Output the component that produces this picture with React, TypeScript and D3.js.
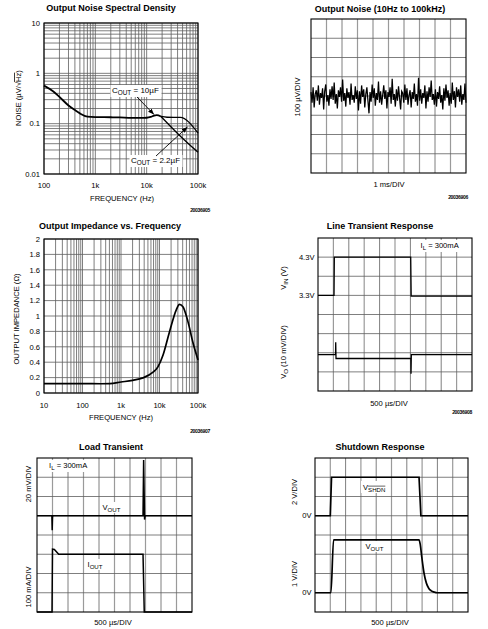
import React from 'react';
import * as d3 from 'd3';

const FONT = "'Liberation Sans', Arial, Helvetica, sans-serif";

// ---------- Panel 1: Output Noise Spectral Density ----------
const nsdFreqCommon = [100, 150, 200, 300, 400, 500, 700, 1000, 2000, 3000, 5000, 8000, 10000, 12000, 14000, 15700, 19000];
const nsdCommon = [0.57, 0.44, 0.34, 0.23, 0.186, 0.16, 0.138, 0.135, 0.134, 0.133, 0.13, 0.13, 0.131, 0.136, 0.145, 0.148, 0.139];
const nsd10uFFreq = [19000, 40000, 100000];
const nsd10uF = [0.139, 0.064, 0.027];
const nsd22uFFreq = [19000, 25000, 45000, 100000];
const nsd22uF = [0.139, 0.134, 0.133, 0.065];
const nsdXTicks = [100, 1000, 10000, 100000];
const nsdXTickLabels = ['100', '1k', '10k', '100k'];
const nsdYTicks = [10, 1, 0.1, 0.01];
const nsdYTickLabels = ['10', '1', '0.1', '0.01'];

// ---------- Panel 2: Output Noise (10Hz to 100kHz), µV ----------
const noiseUV = [
  20, -35, 45, -60, 10, 30, -25, 55, -45, 15, -10, 40, -70, 25, 60, -30, 5, -50, 35, -15,
  50, -20, 70, -40, 10, -65, 30, -5, 45, -30, 85, -25, 15, -55, 40, -10, 20, -45, 65, -20,
  5, -35, 50, -15, 30, -75, 25, -40, 55, -5, 35, -60, 10, 45, -25, -90, 20, -30, 60, -10,
  40, -50, 15, -20, 75, -35, 25, -45, 5, 55, -15, 30, -65, 20, -5, 45, -40, 90, -20, 10,
  -55, 35, -25, 50, -10, -70, 25, 15, -35, 60, -20, 40, -45, 5, 30, -60, 20, -15, 65, -30,
  10, -50, 95, -25, 35, -40, 15, -10, 55, -65, 25, -30, 45, -5, 80, -20, 10, -45, 35, -55,
  20, -15, 50, -35, 5, -70, 40, -25, 60, -10, 30, -50, 15, -40, 70, -20, 25, -60, 45, -5,
  35, -30, 55, -45, 10, -20, 65, -35,
];

// ---------- Panel 3: Output Impedance vs Frequency ----------
const zFreq = [10, 100, 300, 513, 1000, 2000, 3700, 6800, 9100, 12300, 18300, 27300, 33000, 40600, 54600, 73500, 100000];
const zOhm = [0.122, 0.122, 0.12, 0.122, 0.143, 0.165, 0.196, 0.27, 0.34, 0.49, 0.8, 1.08, 1.15, 1.12, 0.93, 0.66, 0.43];
const zXTicks = [10, 100, 1000, 10000, 100000];
const zXTickLabels = ['10', '100', '1k', '10k', '100k'];
const zYTicks = [0, 0.2, 0.4, 0.6, 0.8, 1, 1.2, 1.4, 1.6, 1.8, 2];
const zYTickLabels = ['0', '0.2', '0.4', '0.6', '0.8', '1', '1.2', '1.4', '1.6', '1.8', '2'];

// ---------- Panel 4: Line Transient (time µs) ----------
const lineVinT = [0, 520, 530, 3010, 3025, 5000];
const lineVinV = [3.3, 3.3, 4.3, 4.3, 3.28, 3.28];
const lineVoT = [0, 570, 575, 585, 3015, 3020, 3030, 5000];
const lineVoMV = [-1, -1, 5.5, -3, -3, -11, -1, -1];

// ---------- Panel 5: Load Transient ----------
const loadVT = [0, 480, 490, 500, 510, 3420, 3440, 3470, 3490, 5000];
const loadVmV = [0, 0, -15, -2, 0, 0, 58, -4, 0, 0];
const loadIT = [0, 484, 500, 560, 700, 3420, 3460, 5000];
const loadImA = [0, 0, 327, 325, 300, 300, 0, 0];

// ---------- Panel 6: Shutdown Response ----------
const shdnT = [0, 500, 540, 3400, 3460, 5000];
const shdnV = [0, 0, 4, 4, 0, 0];
const sdOutT = [0, 520, 607, 3400, 3440, 3490, 3565, 3640, 3720, 3800, 3900, 4000, 5000];
const sdOutV = [0, 0, 2.75, 2.75, 2.5, 1.85, 1.0, 0.5, 0.22, 0.1, 0.03, 0, 0];

const GRID = '#5e5e5e';

function logGrid(lo: number, hi: number) {
  const out: number[] = [];
  for (let e = Math.floor(Math.log10(lo)); Math.pow(10, e) <= hi * 1.001; e++) {
    for (let k = 1; k < 10; k++) {
      const v = k * Math.pow(10, e);
      if (v >= lo * 0.999 && v <= hi * 1.001) out.push(v);
    }
  }
  return out;
}

const T = (props: any) => <text fontFamily={FONT} fill="#000" {...props} />;

function Title({ x, y, text }: any) {
  return <T x={x} y={y} fontSize={9} fontWeight="bold" textAnchor="middle">{text}</T>;
}

function Code({ x, y, text }: any) {
  return <T x={x} y={y} fontSize={5} fontWeight="bold" textAnchor="end" letterSpacing={-0.3}>{text}</T>;
}

function SubLabel({ x, y, main, sub, rest = '', size = 8, anchor = 'start', bg = false, bgW = 0, overline = false }: any) {
  return (
    <g>
      {bg && <rect x={x - 1.5} y={y - size} width={bgW} height={size + 4} fill="#fff" />}
      <T x={x} y={y} fontSize={size} textAnchor={anchor}>
        {main}
        <tspan fontSize={size * 0.8} dy={size * 0.3} style={overline ? { textDecoration: 'overline' } : undefined}>{sub}</tspan>
        <tspan dy={-size * 0.3}>{rest}</tspan>
      </T>
    </g>
  );
}

function ScopeGrid({ x0, y0, x1, y1 }: any) {
  const xs = d3.scaleLinear().domain([0, 10]).range([x0, x1]);
  const ys = d3.scaleLinear().domain([0, 8]).range([y0, y1]);
  return (
    <g>
      {d3.range(1, 10).map((i) => (
        <line key={'v' + i} x1={xs(i)} x2={xs(i)} y1={y0} y2={y1} stroke={i % 2 === 1 ? '#9a9a9a' : GRID} strokeWidth={i % 2 === 1 ? 1.2 : 0.8} />
      ))}
      {d3.range(1, 8).map((i) => (
        <line key={'h' + i} x1={x0} x2={x1} y1={ys(i)} y2={ys(i)} stroke={GRID} strokeWidth={0.8} />
      ))}
      <rect x={x0} y={y0} width={x1 - x0} height={y1 - y0} fill="none" stroke="#000" strokeWidth={1.1} />
    </g>
  );
}

function Panel1() {
  const x0 = 44, x1 = 198, y0 = 23, y1 = 174;
  const x = d3.scaleLog().domain([100, 100000]).range([x0, x1]);
  const y = d3.scaleLog().domain([0.01, 10]).range([y1, y0]);
  const line = d3.line<[number, number]>().x((d) => x(d[0])).y((d) => y(d[1])).curve(d3.curveMonotoneX);
  const common = nsdFreqCommon.map((f, i) => [f, nsdCommon[i]] as [number, number]);
  const c10 = nsd10uFFreq.map((f, i) => [f, nsd10uF[i]] as [number, number]);
  const c22 = nsd22uFFreq.map((f, i) => [f, nsd22uF[i]] as [number, number]);
  return (
    <g>
      <Title x={111} y={11} text="Output Noise Spectral Density" />
      {logGrid(100, 100000).map((v) => (
        <line key={'x' + v} x1={x(v)} x2={x(v)} y1={y0} y2={y1} stroke={GRID} strokeWidth={0.8} />
      ))}
      {logGrid(0.01, 10).map((v) => (
        <line key={'y' + v} x1={x0} x2={x1} y1={y(v)} y2={y(v)} stroke={GRID} strokeWidth={0.8} />
      ))}
      <rect x={x0} y={y0} width={x1 - x0} height={y1 - y0} fill="none" stroke="#000" strokeWidth={1.1} />
      <path d={line(common) || ''} fill="none" stroke="#000" strokeWidth={1.8} />
      <path d={line(c10) || ''} fill="none" stroke="#000" strokeWidth={1.3} />
      <path d={line(c22) || ''} fill="none" stroke="#000" strokeWidth={1.3} />
      {nsdYTicks.map((v, i) => (
        <T key={v} x={40} y={y(v) + 2.7} fontSize={7.6} textAnchor="end">{nsdYTickLabels[i]}</T>
      ))}
      {nsdXTicks.map((v, i) => (
        <T key={v} x={x(v)} y={188} fontSize={7.6} textAnchor="middle">{nsdXTickLabels[i]}</T>
      ))}
      <T x={122} y={201} fontSize={7.6} textAnchor="middle">FREQUENCY (Hz)</T>
      <T transform="translate(21,98) rotate(-90)" fontSize={7.6} textAnchor="middle">
        NOISE (µV/√<tspan style={{ textDecoration: 'overline' }}>Hz</tspan>)
      </T>
      <SubLabel x={112} y={93} main="C" sub="OUT" rest=" = 10µF" size={8} bg bgW={51} />
      <SubLabel x={131} y={163} main="C" sub="OUT" rest=" = 2.2µF" size={8} bg bgW={53} />
      <line x1={137} y1={97} x2={154} y2={114.5} stroke="#000" strokeWidth={0.9} markerEnd="url(#arr)" />
      <line x1={156} y1={156} x2={187.5} y2={127} stroke="#000" strokeWidth={0.9} markerEnd="url(#arr)" />
      <Code x={210} y={212} text="20036905" />
    </g>
  );
}

function Panel2() {
  const x0 = 311, x1 = 466, y0 = 19, y1 = 173;
  const x = d3.scaleLinear().domain([0, noiseUV.length - 1]).range([x0, x1]);
  const y = d3.scaleLinear().domain([-400, 400]).range([y1, y0]);
  const line = d3.line<number>().x((_, i) => x(i)).y((d) => y(d));
  return (
    <g>
      <Title x={380} y={11.5} text="Output Noise (10Hz to 100kHz)" />
      <ScopeGrid x0={x0} y0={y0} x1={x1} y1={y1} />
      <path d={line(noiseUV) || ''} fill="none" stroke="#000" strokeWidth={1.25} />
      <T transform="translate(300,97) rotate(-90)" fontSize={7.6} textAnchor="middle">100 µV/DIV</T>
      <T x={389} y={187} fontSize={7.6} textAnchor="middle">1 ms/DIV</T>
      <Code x={468} y={199} text="20036906" />
    </g>
  );
}

function Panel3() {
  const x0 = 44, x1 = 198, y0 = 239, y1 = 393;
  const x = d3.scaleLog().domain([10, 100000]).range([x0, x1]);
  const y = d3.scaleLinear().domain([0, 2]).range([y1, y0]);
  const line = d3.line<[number, number]>().x((d) => x(d[0])).y((d) => y(d[1])).curve(d3.curveMonotoneX);
  const pts = zFreq.map((f, i) => [f, zOhm[i]] as [number, number]);
  return (
    <g>
      <Title x={110} y={229} text="Output Impedance vs. Frequency" />
      {logGrid(10, 100000).map((v) => (
        <line key={'x' + v} x1={x(v)} x2={x(v)} y1={y0} y2={y1} stroke={GRID} strokeWidth={0.8} />
      ))}
      {zYTicks.map((v) => (
        <line key={'y' + v} x1={x0} x2={x1} y1={y(v)} y2={y(v)} stroke={GRID} strokeWidth={0.8} />
      ))}
      <rect x={x0} y={y0} width={x1 - x0} height={y1 - y0} fill="none" stroke="#000" strokeWidth={1.1} />
      <path d={line(pts) || ''} fill="none" stroke="#000" strokeWidth={1.7} />
      {zYTicks.map((v, i) => (
        <T key={v} x={40} y={y(v) + 2.7} fontSize={7.6} textAnchor="end">{zYTickLabels[i]}</T>
      ))}
      {zXTicks.map((v, i) => (
        <T key={v} x={x(v)} y={408} fontSize={7.6} textAnchor="middle">{zXTickLabels[i]}</T>
      ))}
      <T x={121} y={420} fontSize={7.6} textAnchor="middle">FREQUENCY (Hz)</T>
      <T transform="translate(18.5,319) rotate(-90)" fontSize={7.6} textAnchor="middle">OUTPUT IMPEDANCE (Ω)</T>
      <Code x={210} y={433} text="20036907" />
    </g>
  );
}

function Panel4() {
  const x0 = 318, x1 = 472, y0 = 238, y1 = 391;
  const x = d3.scaleLinear().domain([0, 5000]).range([x0, x1]);
  const yVin = d3.scaleLinear().domain([0.8, 4.8]).range([y1, y0]);
  const yVo = d3.scaleLinear().domain([-20, 60]).range([y1, y0]);
  const lVin = d3.line<number>().x((_, i) => x(lineVinT[i])).y((d) => yVin(d));
  const lVo = d3.line<number>().x((_, i) => x(lineVoT[i])).y((d) => yVo(d));
  return (
    <g>
      <Title x={380} y={229} text="Line Transient Response" />
      <ScopeGrid x0={x0} y0={y0} x1={x1} y1={y1} />
      <path d={lVin(lineVinV) || ''} fill="none" stroke="#000" strokeWidth={1.3} />
      <path d={lVo(lineVoMV) || ''} fill="none" stroke="#000" strokeWidth={1.3} />
      <rect x={418} y={240} width={50} height={12} fill="#fff" />
      <SubLabel x={420.5} y={248} main="I" sub="L" rest=" = 300mA" size={7.6} />
      <T x={314.5} y={yVin(4.3) + 2.7} fontSize={7.6} textAnchor="end">4.3V</T>
      <T x={314.5} y={yVin(3.3) + 2.7} fontSize={7.6} textAnchor="end">3.3V</T>
      <g transform="translate(286,278) rotate(-90)">
        <SubLabel x={0} y={0} main="V" sub="IN" rest=" (V)" size={7.6} anchor="middle" />
      </g>
      <g transform="translate(286,352) rotate(-90)">
        <SubLabel x={0} y={0} main="V" sub="O" rest=" (10 mV/DIV)" size={7.6} anchor="middle" />
      </g>
      <T x={389} y={406} fontSize={7.6} textAnchor="middle">500 µs/DIV</T>
      <Code x={472} y={414} text="20036908" />
    </g>
  );
}

function Panel5() {
  const x0 = 37, x1 = 192, y0 = 458, y1 = 612;
  const x = d3.scaleLinear().domain([0, 5000]).range([x0, x1]);
  const yV = d3.scaleLinear().domain([-100, 60]).range([y1, y0]);
  const yI = d3.scaleLinear().domain([0, 800]).range([y1, y0]);
  const lV = d3.line<number>().x((_, i) => x(loadVT[i])).y((d) => yV(d));
  const lI = d3.line<number>().x((_, i) => x(loadIT[i])).y((d) => yI(d));
  return (
    <g>
      <Title x={111} y={450} text="Load Transient" />
      <ScopeGrid x0={x0} y0={y0} x1={x1} y1={y1} />
      <path d={lV(loadVmV) || ''} fill="none" stroke="#000" strokeWidth={1.5} />
      <path d={lI(loadImA) || ''} fill="none" stroke="#000" strokeWidth={1.5} />
      <rect x={47} y={460} width={44} height={12} fill="#fff" />
      <SubLabel x={49} y={468} main="I" sub="L" rest=" = 300mA" size={7.6} />
      <rect x={101} y={502} width={24} height={11} fill="#fff" />
      <SubLabel x={102.5} y={510} main="V" sub="OUT" size={7.6} />
      <rect x={86} y={559} width={22} height={11} fill="#fff" />
      <SubLabel x={87.5} y={567} main="I" sub="OUT" size={7.6} />
      <T transform="translate(30.5,484) rotate(-90)" fontSize={7.6} textAnchor="middle">20 mV/DIV</T>
      <T transform="translate(30.5,587) rotate(-90)" fontSize={7.6} textAnchor="middle">100 mA/DIV</T>
      <T x={113} y={625} fontSize={7.6} textAnchor="middle">500 µs/DIV</T>
    </g>
  );
}

function Panel6() {
  const x0 = 315, x1 = 468, y0 = 458, y1 = 612;
  const x = d3.scaleLinear().domain([0, 5000]).range([x0, x1]);
  const yS = d3.scaleLinear().domain([-10, 6]).range([y1, y0]);
  const yO = d3.scaleLinear().domain([-1, 7]).range([y1, y0]);
  const lS = d3.line<number>().x((_, i) => x(shdnT[i])).y((d) => yS(d));
  const lO = d3.line<number>().x((_, i) => x(sdOutT[i])).y((d) => yO(d)).curve(d3.curveMonotoneX);
  return (
    <g>
      <Title x={380} y={450} text="Shutdown Response" />
      <ScopeGrid x0={x0} y0={y0} x1={x1} y1={y1} />
      <path d={lS(shdnV) || ''} fill="none" stroke="#000" strokeWidth={1.7} />
      <path d={lO(sdOutV) || ''} fill="none" stroke="#000" strokeWidth={1.7} />
      <rect x={361} y={481} width={29} height={12} fill="#fff" />
      <SubLabel x={363} y={489.5} main="V" sub="SHDN" size={7.6} overline />
      <rect x={364} y={541} width={23} height={11} fill="#fff" />
      <SubLabel x={365.5} y={549} main="V" sub="OUT" size={7.6} />
      <T x={311.5} y={yS(0) + 2.7} fontSize={7.6} textAnchor="end">0V</T>
      <T x={311.5} y={yO(0) + 2.7} fontSize={7.6} textAnchor="end">0V</T>
      <T transform="translate(297,492) rotate(-90)" fontSize={7.6} textAnchor="middle">2 V/DIV</T>
      <T transform="translate(297,574) rotate(-90)" fontSize={7.6} textAnchor="middle">1 V/DIV</T>
      <T x={390} y={625} fontSize={7.6} textAnchor="middle">500 µs/DIV</T>
    </g>
  );
}

export default function App() {
  return (
    <svg width={488} height={629} style={{ position: 'absolute', left: 0, top: 0, background: '#fff' }}>
      <defs>
        <marker id="arr" viewBox="0 0 10 10" refX="10" refY="5" markerWidth="6" markerHeight="6" orient="auto" markerUnits="userSpaceOnUse">
          <path d="M0,1 L10,5 L0,9 z" fill="#000" />
        </marker>
      </defs>
      <rect x={0} y={0} width={488} height={629} fill="#fff" />
      <Panel1 />
      <Panel2 />
      <Panel3 />
      <Panel4 />
      <Panel5 />
      <Panel6 />
    </svg>
  );
}
